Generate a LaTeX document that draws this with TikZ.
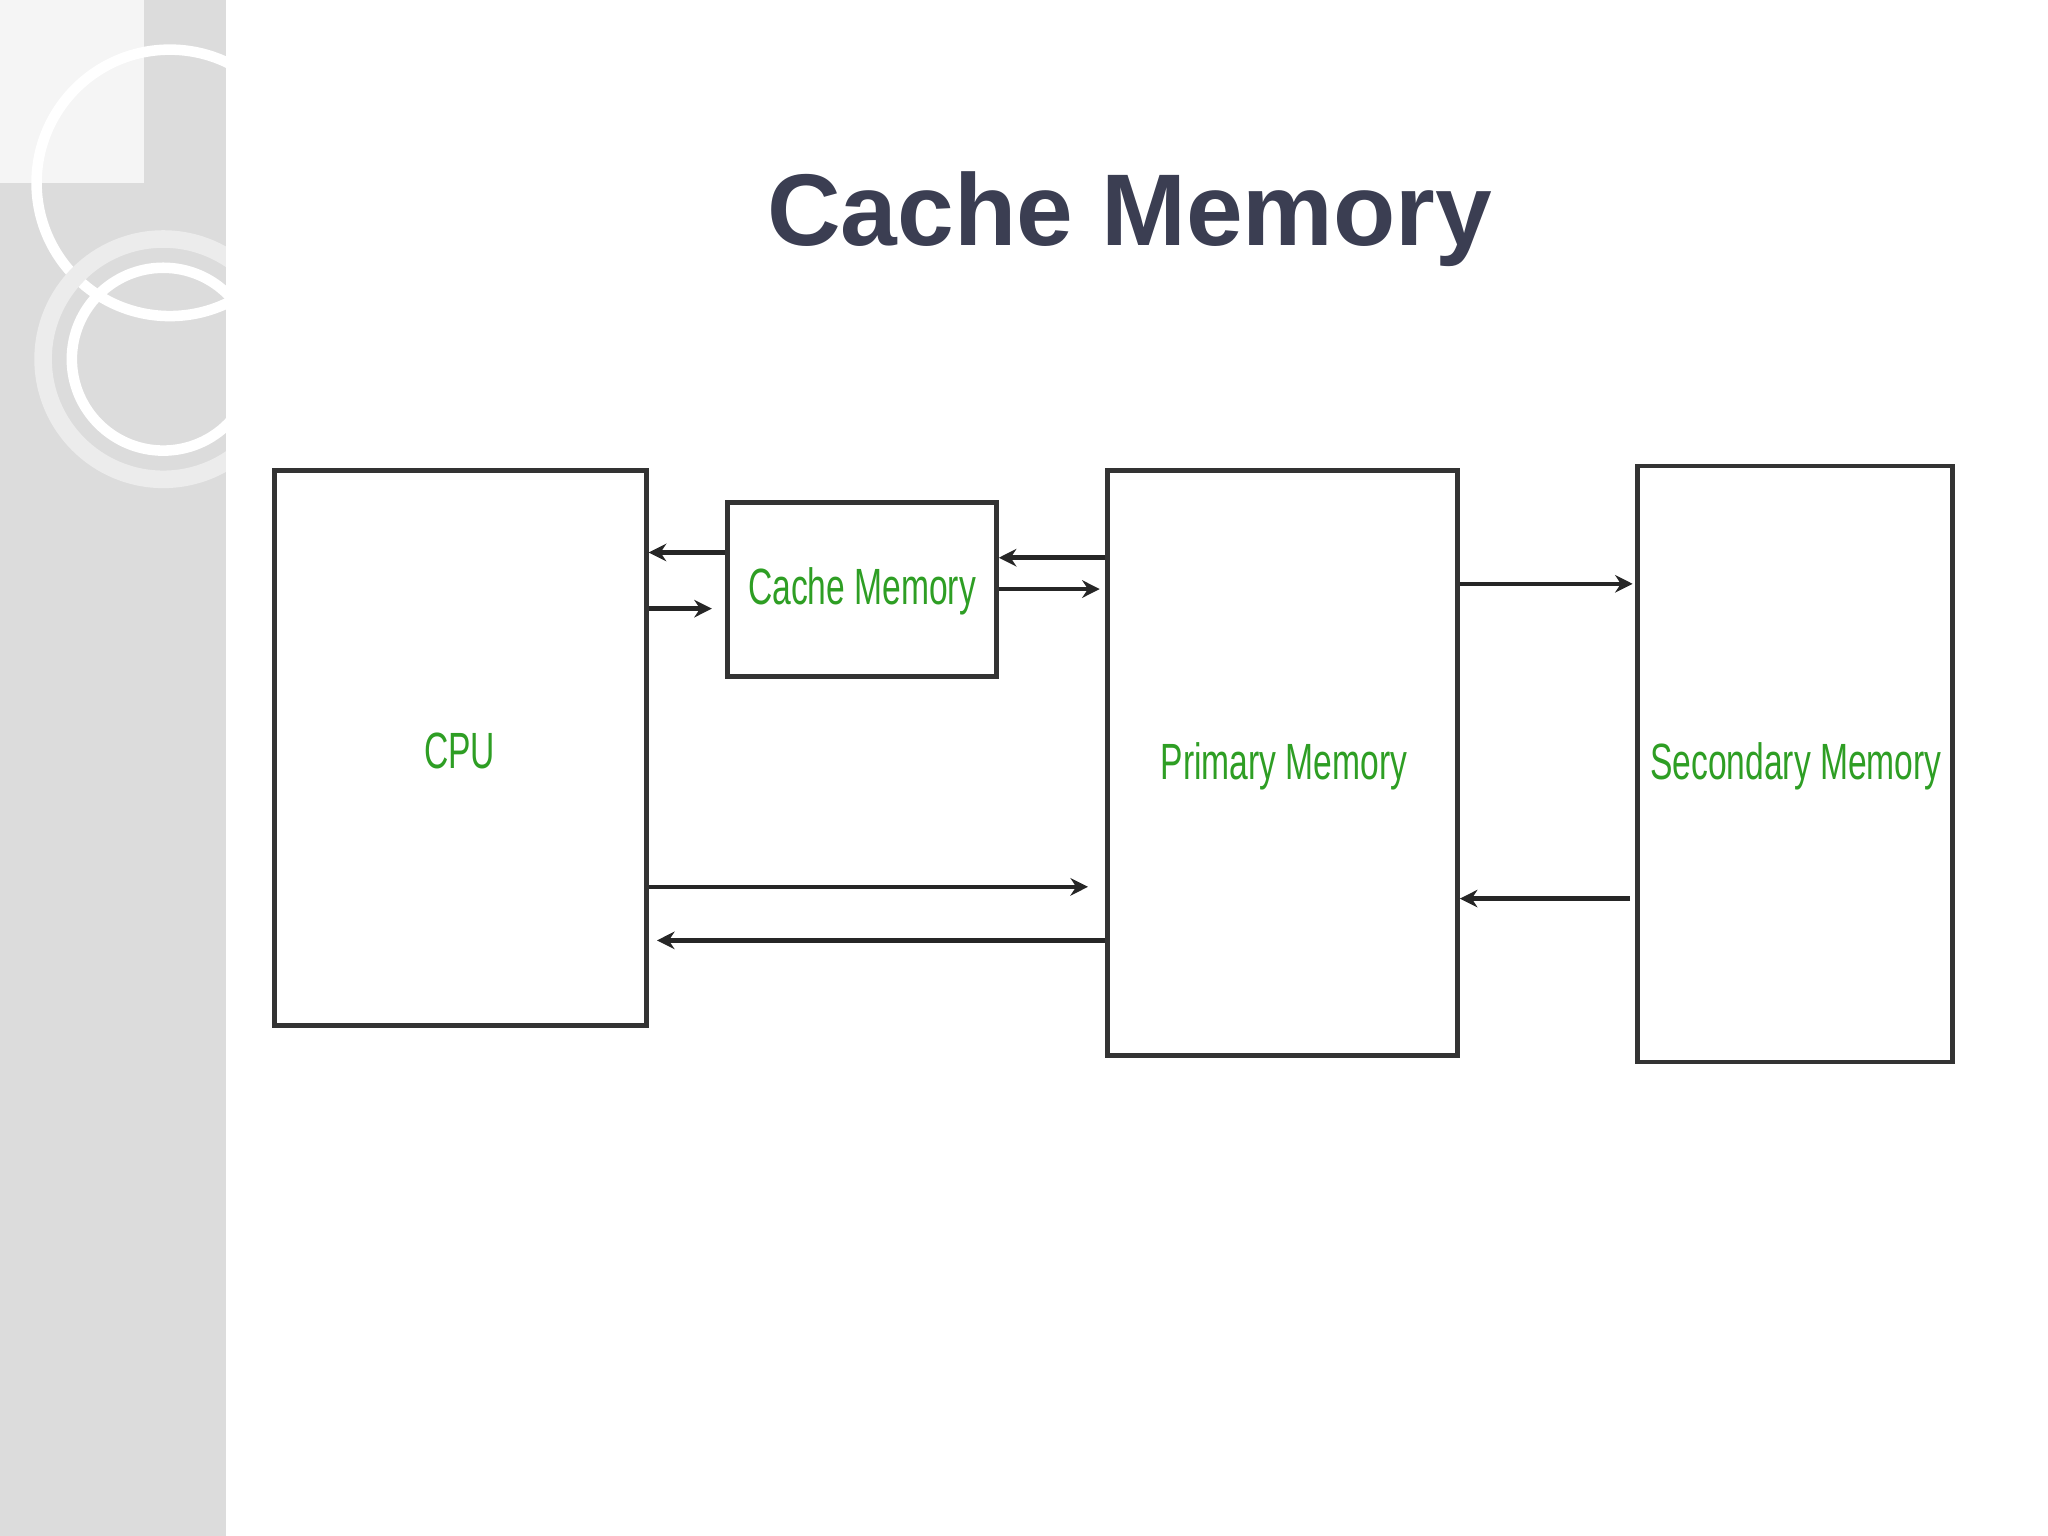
\documentclass[tikz,border=0pt]{standalone}
\usepackage{fontspec}
\setmainfont{Liberation Sans}
\newfontfamily\narrowsf[FakeStretch=0.66]{Liberation Sans}
\usetikzlibrary{arrows.meta}
\definecolor{titlegray}{HTML}{3B3E52}
\definecolor{labelgreen}{HTML}{2E9E24}
\definecolor{panelgray}{HTML}{DCDCDC}
\begin{document}
\begin{tikzpicture}[x=0.013061cm,y=-0.013061cm,
    box/.style={draw=black!80,line width=1.3pt,inner sep=0pt},
    lbl/.style={text=labelgreen,font=\narrowsf\fontsize{14.5}{18}\selectfont},
    arr/.style={draw=black!85,line width=1.3pt,-{Stealth[length=5pt,width=5pt]}}]
\useasboundingbox (0,0) rectangle (1568,1176);
% side panel
\fill[panelgray] (0,0) rectangle (173,1176);
\begin{scope}
\clip (0,0) rectangle (173,1176);
\fill[white!92!gray] (0,0) rectangle (110,140);
\draw[white,line width=3pt] (130,140) circle (102);
\draw[white!85!gray,line width=5pt] (125,275) circle (92);
\draw[white,line width=3pt] (125,275) circle (70);
\end{scope}
% title
\node[text=titlegray,font=\bfseries\fontsize{29}{34}\selectfont] (title) at (865,168) {Cache Memory};
% blocks
\node[box,minimum width=3.72cm,minimum height=5.55cm] (cpu) at (352.5,572.5) {};
\node[box,minimum width=2.69cm,minimum height=1.74cm] (cache) at (660,451.5) {};
\node[box,minimum width=3.50cm,minimum height=5.85cm] (prim) at (982,584) {};
\node[box,minimum width=3.15cm,minimum height=5.96cm] (sec) at (1374.5,585) {};
\node[lbl] at (352,575) {CPU};
\node[lbl] at (660,453) {Cache Memory};
\node[lbl] at (983,587) {Primary Memory};
\node[lbl] at (1375,587) {Secondary Memory};
% connectors
\draw[arr] (cache.west |- 0,423) -- (cpu.east |- 0,423);
\draw[arr] (cpu.east |- 0,466) -- (545,466);
\draw[arr] (prim.west |- 0,427) -- (cache.east |- 0,427);
\draw[arr] (cache.east |- 0,451) -- (842,451);
\draw[arr] (cpu.east |- 0,679) -- (833,679);
\draw[arr] (prim.west |- 0,720) -- (503,720);
\draw[arr] (prim.east |- 0,447) -- (1250,447);
\draw[arr] (1248,688) -- (prim.east |- 0,688);
\end{tikzpicture}
\end{document}
